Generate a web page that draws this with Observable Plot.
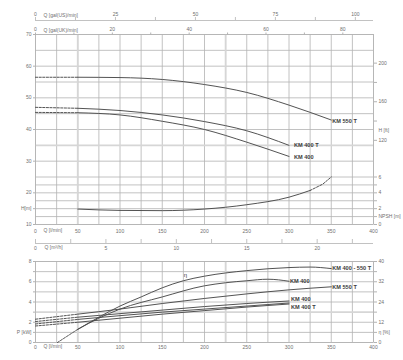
<!DOCTYPE html>
<html><head><meta charset="utf-8">
<script src="https://cdn.jsdelivr.net/npm/d3@7"></script>
<script src="https://cdn.jsdelivr.net/npm/@observablehq/plot@0.6"></script>
<style>
html,body{margin:0;padding:0;background:#fff;}
#chart{position:relative;width:403px;height:360px;overflow:hidden;background:#fff;}
#chart svg{position:absolute;left:0;}
</style></head><body><div id="chart"></div>
<script>
// ---- unit conversions (for secondary axes)
const L_PER_US_GAL = 3.78541, L_PER_UK_GAL = 4.54609, LMIN_PER_M3H = 1000 / 60, M_PER_FT = 0.3048;
const NPSH_TO_H = n => 10 + 2.5 * n;   // NPSH axis shares the lower H grid
const ETA_PER_KW = 5;                  // eta axis shares the P grid

// ---- axis ticks / labels
const qLabels = [0, 50, 100, 150, 200, 250, 300, 350, 400];
const qGrid = [0,25,50,75,100,125,150,175,200,225,250,275,300,325,350,375,400];
const qGridLight = [50, 225];
const usGalMajor = [0, 25, 50, 75, 100];
const usGalMinor = [12.5, 37.5, 62.5, 87.5];
const ukGalMajor = [0, 20, 40, 60, 80];
const ukGalMinor = [10, 30, 50, 70];
const m3hMajor = [0, 5, 10, 15, 20];
const m3hMinor = [2.5, 7.5, 12.5, 17.5, 22.5];
const hTickPos = [10, 15, 20, 30, 40, 50, 60, 70];
const hTickText = ["10", "H[m]", "20", "30", "40", "50", "60", "70"];
const hGrid = [30, 40, 45, 50, 55, 60, 65, 70];
const hGridLight = [35];
const ftTicks = [120, 140, 160, 180, 200];
const ftLabelPos = [120, 130, 160, 200];
const ftLabelText = ["120", "H [ft]", "160", "200"];
const npshTicks = [0, 1, 2, 3, 4, 5, 6];
const npshLabelPos = [0, 1, 2, 4, 6];
const npshLabelText = ["0", "NPSH [m]", "2", "4", "6"];
const pGrid = [0, 1, 2, 4, 5, 6, 7, 8];
const pGridLight = [3];
const pLabelPos = [0, 1, 2, 4, 6, 8];
const pLabelText = ["0", "P [kW]", "2", "4", "6", "8"];
const etaLabelText = ["0", "η [%]", "12", "24", "32", "40"];

// ---- curves: head H [m]
const hQ550 = [0, 50, 100, 150, 200, 250, 300, 350];
const h550T = [56.5, 56.5, 56.4, 55.8, 54.2, 51.7, 47.7, 43.0];
const hQ400 = [0, 50, 100, 150, 200, 250, 300];
const h400T = [47.0, 46.7, 46.0, 44.6, 42.5, 39.6, 35.0];
const h400 = [45.4, 45.3, 44.6, 42.6, 40.0, 36.0, 31.5];
// NPSH [m]
const npshQ = [50, 100, 150, 200, 250, 300, 325, 340, 350];
const npshVal = [1.95, 1.78, 1.75, 1.95, 2.5, 3.45, 4.3, 5.1, 6.0];
// power P [kW]
const pQ550 = [0, 50, 100, 150, 200, 250, 300, 350];
const p550T = [2.3, 2.8, 3.3, 3.85, 4.35, 4.8, 5.2, 5.5];
const pQ400 = [0, 50, 100, 150, 200, 250, 300];
const p400 = [2.07, 2.5, 2.85, 3.2, 3.55, 3.85, 4.1];
const p400b = [1.83, 2.28, 2.65, 3.0, 3.3, 3.6, 3.9];
const p400T = [1.63, 2.0, 2.4, 2.8, 3.15, 3.5, 3.8];
// efficiency eta [%]
const etaQ550 = [26, 50, 75, 100, 125, 150, 175, 200, 250, 300, 325, 350];
const eta550 = [0, 6.5, 12.5, 18, 22.5, 27, 30.5, 32.75, 35.5, 37, 37.25, 36.5];
const etaQ400 = [26, 50, 75, 100, 150, 200, 225, 250, 275, 300];
const eta400 = [0, 6.5, 12, 16.5, 22.5, 28, 29.5, 30.5, 31.25, 30.25];

// ---- styling
const W = 403, ML = 35, MR = 30;
const GRID = "#b3b3b3", GRID_LIGHT = "#d6d6d6", LINE = "#4a4a4a", TXT = "#6f6f6f", LBL = "#3c3c3c";
const FONT = '"Liberation Sans", Arial, Helvetica, sans-serif';
const baseStyle = {fontFamily: FONT, fontSize: "5px", color: TXT, background: "transparent", overflow: "visible"};
const chart = document.getElementById("chart");
function place(svg, top) { svg.style.top = top + "px"; chart.appendChild(svg); }

const rows = (qs, vs) => qs.map((q, i) => ({q, v: vs[i]}));
const seg = (data, lo, hi) => data.filter(d => d.q >= lo && d.q <= hi);
const solid = (data, y) => Plot.line(data, {x: "q", y, curve: "monotone-x", stroke: LINE, strokeWidth: 0.95});
const dashed = (data, y) => Plot.line(data, {x: "q", y, stroke: LINE, strokeWidth: 0.95, strokeDasharray: "2.2,1.4"});
const label = (d, text, y, dx, dy) => Plot.text([d], {x: "q", y, text: () => text, dx, dy, textAnchor: "start",
  fontWeight: "bold", fontSize: 5.6, fill: LBL});
const gridStyle = {stroke: GRID, strokeOpacity: 1, strokeWidth: 0.8};
const gridLightStyle = {stroke: GRID_LIGHT, strokeOpacity: 1, strokeWidth: 1.8};

// ===== strip: Q [gal(US)/min]
place(Plot.plot({
  width: W, height: 21, marginLeft: ML, marginRight: MR, marginTop: 17, marginBottom: 1,
  x: {domain: [0, 400], axis: null}, y: {domain: [0, 1], axis: null}, style: baseStyle,
  marks: [
    Plot.tickX(usGalMajor.concat(usGalMinor), {x: g => g * L_PER_US_GAL, stroke: GRID, strokeWidth: 0.8}),
    Plot.ruleY([0], {stroke: GRID, strokeWidth: 0.8}),
    Plot.axisX({anchor: "top", ticks: usGalMajor.map(g => g * L_PER_US_GAL), tickFormat: d => Math.round(d / L_PER_US_GAL), tickSize: 0, tickPadding: 1.5, label: null}),
    Plot.text(["Q [gal(US)/min]"], {text: d => d, frameAnchor: "top-left", dx: 8, dy: -4.5, textAnchor: "start", fill: TXT})
  ]
}), 0);

// ===== main head chart
const d550 = rows(hQ550, h550T), d400T = rows(hQ400, h400T), d400 = rows(hQ400, h400), dNpsh = rows(npshQ, npshVal);
const npY = d => NPSH_TO_H(d.v);
place(Plot.plot({
  width: W, height: 214, marginLeft: ML, marginRight: MR, marginTop: 12, marginBottom: 12,
  x: {domain: [0, 400], axis: null}, y: {domain: [10, 70], axis: null}, style: baseStyle,
  marks: [
    Plot.gridX(qGrid, gridStyle),
    Plot.gridY(hGrid, gridStyle),
    Plot.gridY(npshTicks.map(NPSH_TO_H), gridStyle),
    Plot.gridX(qGridLight, gridLightStyle),
    Plot.gridY(hGridLight, gridLightStyle),
    Plot.frame({stroke: GRID, strokeWidth: 0.8}),
    // top: Q [gal(UK)/min]
    Plot.axisX({anchor: "top", ticks: ukGalMajor.concat(ukGalMinor).map(g => g * L_PER_UK_GAL), tickFormat: () => "", tickSize: 2.5, stroke: GRID, label: null}),
    Plot.axisX({anchor: "top", ticks: ukGalMajor.map(g => g * L_PER_UK_GAL), tickFormat: d => Math.round(d / L_PER_UK_GAL), tickSize: 0, tickPadding: 4, label: null}),
    Plot.text(["Q [gal(UK)/min]"], {text: d => d, frameAnchor: "top-left", dx: 8, dy: -6, textAnchor: "start", fill: TXT}),
    // bottom: Q [l/min]
    Plot.axisX({anchor: "bottom", ticks: qLabels, tickSize: 0, tickPadding: 5, label: null}),
    Plot.text(["Q [l/min]"], {text: d => d, frameAnchor: "bottom-left", dx: 8, dy: 7.5, textAnchor: "start", fill: TXT}),
    // left: H [m]
    Plot.axisY({anchor: "left", ticks: hTickPos, tickFormat: d => hTickText[hTickPos.indexOf(d)], tickSize: 2, tickPadding: 2, stroke: GRID, label: null}),
    // right: H [ft] and NPSH [m]
    Plot.axisY({anchor: "right", ticks: ftTicks.map(f => f * M_PER_FT), tickFormat: () => "", tickSize: 3, stroke: GRID, label: null}),
    Plot.axisY({anchor: "right", ticks: ftLabelPos.map(f => f * M_PER_FT), tickFormat: d => ftLabelText[ftLabelPos.indexOf(Math.round(d / M_PER_FT))], tickSize: 0, tickPadding: 5, label: null}),
    Plot.axisY({anchor: "right", ticks: npshTicks.map(NPSH_TO_H), tickFormat: () => "", tickSize: 3, stroke: GRID, label: null}),
    Plot.axisY({anchor: "right", ticks: npshLabelPos.map(NPSH_TO_H), tickFormat: d => npshLabelText[npshLabelPos.indexOf(Math.round((d - 10) / 2.5))], tickSize: 0, tickPadding: 5, label: null}),
    // curves
    dashed(seg(d550, 0, 50), "v"), solid(seg(d550, 50, 400), "v"),
    dashed(seg(d400T, 0, 50), "v"), solid(seg(d400T, 50, 400), "v"),
    dashed(seg(d400, 0, 50), "v"), solid(seg(d400, 50, 400), "v"),
    solid(seg(dNpsh, 0, 325), npY), dashed(seg(dNpsh, 325, 400), npY),
    label(d550[d550.length - 1], "KM 550 T", "v", 1, 1),
    label(d400T[d400T.length - 1], "KM 400 T", "v", 5, -0.5),
    label(d400[d400.length - 1], "KM 400", "v", 5, 1)
  ]
}), 22);

// ===== strip: Q [m3/h]
place(Plot.plot({
  width: W, height: 18, marginLeft: ML, marginRight: MR, marginTop: 3, marginBottom: 11,
  x: {domain: [0, 400], axis: null}, y: {domain: [0, 1], axis: null}, style: baseStyle,
  marks: [
    Plot.tickX(m3hMajor.concat(m3hMinor), {x: m => m * LMIN_PER_M3H, stroke: GRID, strokeWidth: 0.8}),
    Plot.ruleY([0], {stroke: GRID, strokeWidth: 0.8}),
    Plot.axisX({anchor: "bottom", ticks: m3hMajor.map(m => m * LMIN_PER_M3H), tickFormat: d => Math.round(d / LMIN_PER_M3H), tickSize: 0, tickPadding: 2.5, label: null}),
    Plot.text(["Q [m³/h]"], {text: d => d, frameAnchor: "bottom-left", dx: 9, dy: 5, textAnchor: "start", fill: TXT})
  ]
}), 236);

// ===== power / efficiency chart
const e550 = rows(etaQ550, eta550), e400 = rows(etaQ400, eta400);
const q550 = rows(pQ550, p550T), q400 = rows(pQ400, p400), q400b = rows(pQ400, p400b), q400T = rows(pQ400, p400T);
const eY = d => d.v / ETA_PER_KW;
place(Plot.plot({
  width: W, height: 110, marginLeft: ML, marginRight: MR, marginTop: 11, marginBottom: 18,
  x: {domain: [0, 400], axis: null}, y: {domain: [0, 8], axis: null}, style: baseStyle,
  marks: [
    Plot.gridX(qGrid, gridStyle),
    Plot.gridY(pGrid, gridStyle),
    Plot.gridX(qGridLight, gridLightStyle),
    Plot.gridY(pGridLight, gridLightStyle),
    Plot.frame({stroke: GRID, strokeWidth: 0.8}),
    Plot.axisX({anchor: "bottom", ticks: qLabels, tickSize: 0, tickPadding: 3, label: null}),
    Plot.text(["Q [l/min]"], {text: d => d, frameAnchor: "bottom-left", dx: 8, dy: 5.5, textAnchor: "start", fill: TXT}),
    Plot.axisY({anchor: "left", ticks: pGrid.concat(pGridLight), tickFormat: () => "", tickSize: 2, stroke: GRID, label: null}),
    Plot.axisY({anchor: "left", ticks: pLabelPos, tickFormat: d => pLabelText[pLabelPos.indexOf(d)], tickSize: 0, tickPadding: 4, label: null}),
    Plot.axisY({anchor: "right", ticks: pGrid.concat(pGridLight), tickFormat: () => "", tickSize: 3, stroke: GRID, label: null}),
    Plot.axisY({anchor: "right", ticks: pLabelPos, tickFormat: d => etaLabelText[pLabelPos.indexOf(d)], tickSize: 0, tickPadding: 5, label: null}),
    // power curves
    dashed(seg(q550, 0, 50), "v"), solid(seg(q550, 50, 400), "v"),
    dashed(seg(q400, 0, 50), "v"), solid(seg(q400, 50, 400), "v"),
    dashed(seg(q400b, 0, 50), "v"), solid(seg(q400b, 50, 400), "v"),
    dashed(seg(q400T, 0, 50), "v"), solid(seg(q400T, 50, 400), "v"),
    // efficiency curves
    dashed(seg(e550, 0, 50), eY), solid(seg(e550, 50, 400), eY), solid(seg(e400, 50, 400), eY),
    Plot.text(e550.filter(d => d.q === 175), {x: "q", y: eY, text: () => "η", dx: 2, dy: -6, fill: LBL, fontSize: 6}),
    label(e550[e550.length - 1], "KM 400 - 550 T", eY, 1, -0.5),
    label(e400[e400.length - 1], "KM 400", eY, 1, -0.5),
    label(q550[q550.length - 1], "KM 550 T", "v", 1, 0),
    label(q400[q400.length - 1], "KM 400", "v", 2, -2),
    label(q400T[q400T.length - 1], "KM 400 T", "v", 2, 3)
  ]
}), 250);
</script></body></html>
